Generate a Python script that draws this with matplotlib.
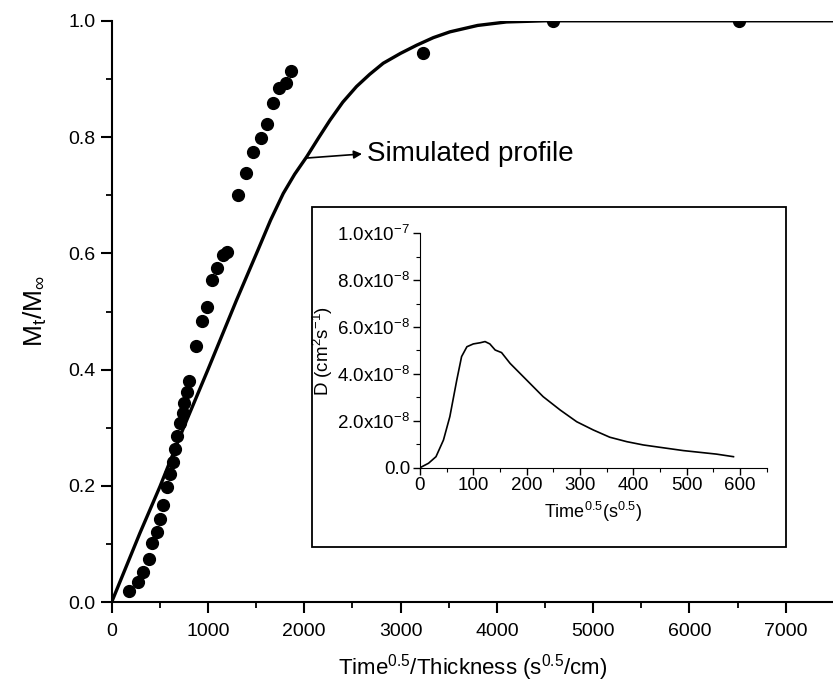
import numpy as np
import matplotlib.pyplot as plt
from matplotlib.patches import Rectangle
from matplotlib.ticker import MultipleLocator, FixedLocator

plt.rcParams["font.family"] = ["Liberation Sans", "DejaVu Sans"]
plt.rcParams["mathtext.fontset"] = "custom"
plt.rcParams["mathtext.rm"] = "Liberation Sans"
plt.rcParams["mathtext.it"] = "Liberation Sans"

# --- measured uptake (dots) ----------------------------------------------
exp_x = [180, 270, 328, 387, 422, 467, 502, 536, 574, 605, 633, 660, 681,
         709, 737, 751, 779, 800, 875, 935, 986, 1038, 1090, 1153, 1194,
         1308, 1391, 1470, 1547, 1616, 1678, 1740, 1807, 1862, 3229, 4586,
         6514]
exp_y = [0.020, 0.034, 0.052, 0.074, 0.101, 0.120, 0.143, 0.167, 0.198,
         0.220, 0.242, 0.263, 0.286, 0.309, 0.325, 0.342, 0.362, 0.381,
         0.440, 0.483, 0.508, 0.555, 0.574, 0.597, 0.603, 0.700, 0.739,
         0.774, 0.798, 0.822, 0.858, 0.884, 0.893, 0.914, 0.944, 1.0, 1.0]

# --- simulated profile (solid line) ---------------------------------------
sim_x = [0, 294, 502, 744, 1000, 1298, 1520, 1650, 1782, 1900, 2025, 2150,
         2267, 2400, 2543, 2680, 2820, 3000, 3167, 3340, 3513, 3800, 4100,
         4500, 5000, 6000, 7000, 7500]
sim_y = [0, 0.119, 0.199, 0.299, 0.400, 0.520, 0.606, 0.657, 0.703, 0.736,
         0.766, 0.799, 0.829, 0.860, 0.887, 0.908, 0.927, 0.944, 0.958,
         0.971, 0.981, 0.992, 0.998, 1.0, 1.0, 1.0, 1.0, 1.0]

# --- inset: diffusion coefficient D vs time^0.5 -----------------------------
ins_x = [0, 16, 30, 44, 56, 69, 78, 88, 100, 113, 122, 131, 141, 153, 169,
         200, 231, 263, 294, 325, 356, 388, 419, 450, 494, 556, 588]
ins_y = np.array([0, 0.19, 0.47, 1.18, 2.18, 3.74, 4.74, 5.16, 5.28, 5.33,
                  5.38, 5.28, 5.02, 4.91, 4.45, 3.74, 3.03, 2.46, 1.96, 1.61,
                  1.30, 1.11, 0.97, 0.87, 0.73, 0.58, 0.47]) * 1e-8

ins_yticks = [0, 2e-8, 4e-8, 6e-8, 8e-8, 1e-7]
ins_ylabels = ["0.0", r"2.0x10$^{-8}$", r"4.0x10$^{-8}$", r"6.0x10$^{-8}$",
               r"8.0x10$^{-8}$", r"1.0x10$^{-7}$"]

fig = plt.figure(figsize=(8.33, 6.93), dpi=100)
ax = fig.add_axes([0.134, 0.131, 0.866, 0.839])

ax.plot(sim_x, sim_y, color="black", lw=2.4, zorder=2)
ax.plot(exp_x, exp_y, "o", color="black", ms=8.5, zorder=3)

ax.set_xlim(0, 7490)
ax.xaxis.set_major_locator(MultipleLocator(1000))
ax.xaxis.set_minor_locator(MultipleLocator(500))
ax.yaxis.set_major_locator(MultipleLocator(0.2))
ax.yaxis.set_minor_locator(MultipleLocator(0.1))
ax.yaxis.set_major_formatter(lambda v, pos: f"{v:.1f}")
ax.set_ylim(0, 1.0)
for s in ("top", "right"):
    ax.spines[s].set_visible(False)
for s in ("left", "bottom"):
    ax.spines[s].set_linewidth(1.5)
ax.tick_params(which="major", direction="out", length=8, width=1.5,
               labelsize=14)
ax.tick_params(axis="x", which="major", pad=7)
ax.tick_params(which="minor", direction="out", length=4, width=1.3)
ax.set_xlabel(r"Time$^{0.5}$/Thickness (s$^{0.5}$/cm)", fontsize=16,
              labelpad=9)
ax.set_ylabel(r"M$_t$/M$_{\infty}$", fontsize=19, labelpad=14)

ax.annotate("", xy=(2600, 0.771), xytext=(2030, 0.764),
            arrowprops=dict(arrowstyle="-|>", color="black", lw=1.2,
                            shrinkA=0, shrinkB=0, mutation_scale=12))
ax.text(2650, 0.771, "Simulated profile", fontsize=20, va="center",
        ha="left")

# outer frame of the inset
fig.patches.append(Rectangle((0.3745, 0.2107), 0.569, 0.4906,
                             transform=fig.transFigure, fill=False,
                             edgecolor="black", lw=1.3))

axi = fig.add_axes([0.5042, 0.3251, 0.416, 0.3383])
axi.plot(ins_x, ins_y, color="black", lw=1.2)
axi.set_xlim(0, 650)
axi.set_ylim(0, 1e-7)
axi.xaxis.set_major_locator(MultipleLocator(100))
axi.xaxis.set_minor_locator(MultipleLocator(50))
axi.yaxis.set_major_locator(FixedLocator(ins_yticks))
axi.yaxis.set_minor_locator(MultipleLocator(1e-8))
axi.set_yticklabels(ins_ylabels)
for s in ("top", "right"):
    axi.spines[s].set_visible(False)
axi.tick_params(which="major", direction="out", length=5, width=1.0,
                labelsize=13.5, pad=2)
axi.tick_params(which="minor", direction="out", length=3, width=0.8)
axi.set_xlabel(r"Time$^{0.5}$(s$^{0.5}$)", fontsize=13, labelpad=4)
axi.set_ylabel(r"D (cm$^2$s$^{-1}$)", fontsize=13.5, labelpad=2)

fig.savefig("out.png", dpi=100)
